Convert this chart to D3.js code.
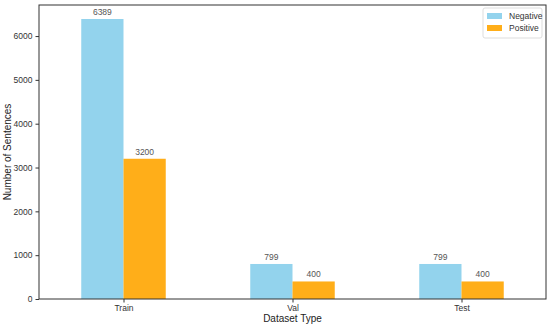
<!DOCTYPE html>
<html>
<head>
<meta charset="utf-8">
<script src="https://cdn.jsdelivr.net/npm/d3@7"></script>
<style>
  body { margin: 0; background: #fff; }
  text { font-family: "Liberation Sans", Arial, sans-serif; }
</style>
</head>
<body>
<svg id="chart" width="550" height="327"></svg>
<script>
const categories = ['Train', 'Val', 'Test'];
const negative = [6389, 799, 799];
const positive = [3200, 400, 400];
const yTicks = [0, 1000, 2000, 3000, 4000, 5000, 6000];

const svg = d3.select('#chart');
const margin = { top: 5, right: 4, bottom: 28, left: 39 };
const width = +svg.attr('width') - margin.left - margin.right;
const height = +svg.attr('height') - margin.top - margin.bottom;
const g = svg.append('g').attr('transform', `translate(${margin.left},${margin.top})`);

const series = [
    { name: 'Negative', values: negative, color: '#87CEEB' },
    { name: 'Positive', values: positive, color: '#FFA500' }
];

// pozycje kategorii jak w matplotlib: 0..n-1, marginesy 0.5
const x = d3.scaleLinear()
    .domain([-0.5, categories.length - 0.5])
    .range([0, width]);
const barW = 0.25;

const y = d3.scaleLinear()
    .domain([0, d3.max(negative.concat(positive)) * 1.05])
    .range([height, 0]);

// słupki
series.forEach((s, si) => {
    g.selectAll('.bar-' + si)
        .data(s.values)
        .enter().append('rect')
        .attr('class', 'bar-' + si)
        .attr('x', (d, i) => x(i - barW + si * barW))
        .attr('y', d => y(d))
        .attr('width', x(barW) - x(0))
        .attr('height', d => height - y(d))
        .attr('fill', s.color)
        .attr('fill-opacity', 0.9);

    g.selectAll('.lbl-' + si)
        .data(s.values)
        .enter().append('text')
        .attr('class', 'lbl-' + si)
        .attr('x', (d, i) => x(i - barW / 2 + si * barW))
        .attr('y', d => y(d) - 4)
        .attr('text-anchor', 'middle')
        .attr('font-size', 8.5)
        .attr('fill', '#555')
        .text(d => d);
});

// oś x
const xAxis = g.append('g')
    .attr('transform', `translate(0,${height})`)
    .call(d3.axisBottom(x)
        .tickValues(categories.map((c, i) => i))
        .tickFormat(i => categories[i])
        .tickSize(3.5)
        .tickPadding(2.5));
xAxis.select('.domain').remove();
xAxis.selectAll('text').attr('font-size', 8.5).attr('fill', '#333');
xAxis.selectAll('line').attr('stroke', '#333');

// oś y
const yAxis = g.append('g')
    .call(d3.axisLeft(y)
        .tickValues(yTicks)
        .tickFormat(d3.format('d'))
        .tickSize(3.5)
        .tickPadding(3));
yAxis.select('.domain').remove();
yAxis.selectAll('text').attr('font-size', 8.5).attr('fill', '#333');
yAxis.selectAll('line').attr('stroke', '#333');

// ramka
g.append('rect')
    .attr('width', width)
    .attr('height', height)
    .attr('fill', 'none')
    .attr('stroke', '#333')
    .attr('stroke-width', 1);

// etykiety osi
svg.append('text')
    .attr('x', margin.left + width / 2)
    .attr('y', 322)
    .attr('text-anchor', 'middle')
    .attr('font-size', 10)
    .attr('fill', '#222')
    .text('Dataset Type');

svg.append('text')
    .attr('transform', `translate(11,${margin.top + height / 2}) rotate(-90)`)
    .attr('text-anchor', 'middle')
    .attr('font-size', 10)
    .attr('fill', '#222')
    .text('Number of Sentences');

// legenda
const legend = g.append('g').attr('transform', `translate(${width - 63},3)`);
legend.append('rect')
    .attr('width', 59)
    .attr('height', 30)
    .attr('rx', 2)
    .attr('fill', '#fff')
    .attr('stroke', '#ddd');
series.forEach((s, i) => {
    const row = legend.append('g').attr('transform', `translate(4,${5 + i * 12})`);
    row.append('rect')
        .attr('width', 15)
        .attr('height', 6)
        .attr('fill', s.color)
        .attr('fill-opacity', 0.9);
    row.append('text')
        .attr('x', 22)
        .attr('y', 6)
        .attr('font-size', 8.5)
        .attr('fill', '#333')
        .text(s.name);
});
</script>
</body>
</html>
